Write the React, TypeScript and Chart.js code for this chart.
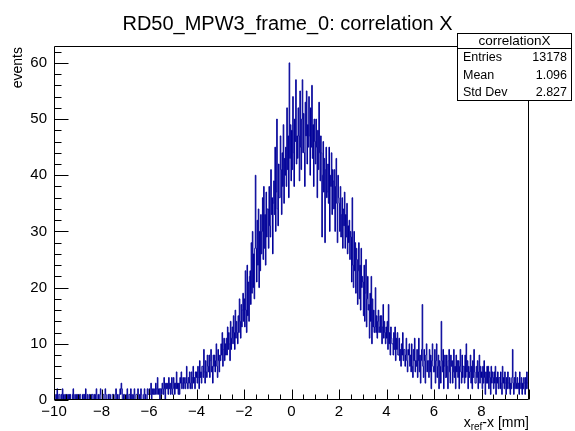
import React, { useEffect, useRef } from "react";
import { Chart, registerables } from "chart.js";

Chart.register(...registerables);

const X_MIN = -10;
const X_MAX = 10;

// events per 0.025 mm bin, one row per 0.25 mm, from x = -10 to x = +10
const counts: number[] = [
  1, 0, 0, 1, 0, 2, 0, 0, 1, 1,
  0, 0, 1, 0, 2, 1, 0, 0, 1, 0,
  1, 0, 0, 1, 0, 1, 0, 1, 0, 0,
  0, 1, 2, 0, 0, 1, 0, 0, 1, 0,
  1, 0, 0, 1, 1, 0, 0, 0, 1, 1,
  0, 1, 0, 2, 0, 0, 1, 0, 0, 1,
  0, 0, 1, 0, 1, 1, 0, 0, 1, 0,
  1, 2, 0, 0, 1, 0, 0, 1, 2, 0,
  0, 0, 1, 1, 0, 0, 2, 1, 0, 0,
  0, 1, 0, 1, 1, 0, 0, 0, 1, 1,
  1, 0, 0, 1, 2, 0, 0, 1, 0, 0,
  1, 2, 1, 3, 2, 0, 0, 1, 1, 0,
  0, 0, 1, 2, 0, 0, 1, 1, 0, 2,
  0, 1, 0, 0, 1, 2, 0, 0, 1, 1,
  1, 2, 0, 0, 1, 0, 2, 1, 0, 0,
  0, 1, 2, 0, 1, 0, 0, 2, 1, 1,
  2, 1, 1, 3, 0, 1, 2, 1, 2, 1,
  1, 3, 2, 1, 4, 2, 1, 2, 0, 2,
  2, 1, 3, 2, 1, 4, 2, 0, 3, 2,
  3, 2, 1, 4, 2, 3, 1, 2, 4, 1,
  2, 4, 3, 1, 3, 2, 5, 2, 3, 1,
  3, 1, 4, 3, 5, 2, 3, 4, 2, 3,
  4, 2, 3, 6, 3, 2, 4, 3, 5, 2,
  3, 5, 2, 4, 6, 3, 4, 2, 5, 4,
  5, 3, 6, 4, 2, 7, 4, 5, 3, 6,
  6, 4, 9, 5, 3, 7, 5, 4, 8, 6,
  5, 8, 4, 7, 9, 5, 6, 3, 8, 6,
  8, 5, 7, 10, 6, 4, 9, 7, 5, 8,
  7, 10, 8, 12, 6, 9, 11, 7, 10, 8,
  11, 8, 13, 9, 12, 10, 7, 14, 9, 11,
  13, 10, 15, 12, 9, 16, 11, 14, 12, 10,
  15, 12, 18, 14, 11, 17, 13, 16, 19, 14,
  18, 13, 23, 16, 12, 24, 15, 21, 14, 22,
  23, 17, 28, 19, 30, 20, 26, 18, 27, 40,
  27, 21, 32, 24, 34, 20, 30, 23, 33, 26,
  30, 36, 25, 38, 27, 33, 24, 37, 29, 34,
  34, 27, 38, 31, 29, 41, 33, 36, 26, 35,
  39, 33, 45, 30, 37, 50, 34, 31, 42, 36,
  36, 47, 41, 33, 44, 38, 49, 35, 43, 40,
  45, 38, 52, 41, 47, 36, 60, 43, 49, 39,
  48, 41, 54, 44, 38, 50, 46, 57, 42, 47,
  43, 52, 47, 39, 55, 45, 41, 50, 57, 44,
  51, 44, 38, 53, 47, 55, 42, 49, 45, 54,
  47, 40, 52, 45, 56, 43, 49, 38, 50, 46,
  42, 50, 45, 36, 48, 41, 53, 44, 39, 47,
  44, 29, 40, 46, 37, 43, 28, 41, 45, 36,
  37, 42, 35, 45, 30, 40, 38, 44, 33, 41,
  39, 34, 41, 30, 38, 43, 35, 28, 40, 36,
  35, 30, 38, 29, 33, 36, 27, 34, 31, 37,
  27, 33, 29, 35, 26, 31, 28, 32, 25, 30,
  29, 21, 36, 24, 20, 30, 23, 28, 19, 27,
  25, 17, 23, 28, 18, 24, 16, 27, 20, 22,
  21, 15, 24, 14, 19, 25, 13, 18, 22, 16,
  17, 11, 19, 14, 22, 10, 18, 13, 16, 12,
  13, 20, 12, 15, 11, 14, 16, 12, 13, 15,
  12, 15, 10, 13, 17, 11, 14, 12, 10, 13,
  11, 14, 9, 17, 10, 12, 8, 13, 11, 10,
  10, 8, 12, 9, 13, 7, 11, 9, 12, 8,
  8, 11, 7, 9, 6, 10, 8, 12, 7, 9,
  9, 6, 8, 11, 7, 5, 9, 8, 10, 6,
  8, 5, 10, 6, 4, 9, 7, 11, 5, 7,
  6, 9, 4, 7, 11, 5, 8, 3, 7, 9,
  17, 6, 4, 9, 7, 3, 8, 10, 5, 7,
  7, 4, 9, 5, 8, 2, 7, 10, 6, 5,
  5, 9, 3, 7, 10, 4, 6, 8, 2, 7,
  6, 3, 14, 7, 5, 9, 2, 6, 8, 4,
  4, 8, 6, 2, 7, 9, 5, 3, 8, 6,
  7, 3, 5, 9, 4, 6, 2, 8, 5, 7,
  4, 7, 2, 6, 9, 5, 3, 8, 4, 6,
  6, 3, 8, 4, 10, 5, 7, 2, 6, 4,
  5, 8, 3, 6, 2, 7, 4, 9, 5, 3,
  3, 6, 4, 7, 2, 5, 8, 3, 6, 4,
  5, 2, 6, 3, 7, 4, 1, 5, 3, 6,
  3, 6, 2, 5, 4, 1, 6, 3, 5, 4,
  2, 5, 3, 6, 1, 4, 3, 5, 2, 4,
  4, 2, 5, 3, 1, 6, 3, 4, 2, 5,
  3, 1, 4, 2, 5, 3, 2, 4, 1, 3,
  2, 4, 9, 3, 1, 4, 2, 5, 3, 2,
  4, 2, 3, 1, 5, 3, 2, 4, 1, 3,
  2, 4, 3, 1, 4, 2, 5, 3, 2, 4,
];

const xTickValues = [-10, -8, -6, -4, -2, 0, 2, 4, 6, 8];
const yTickValues = [0, 10, 20, 30, 40, 50, 60];
const Y_MAX = 63;

const chartTitle = "RD50_MPW3_frame_0: correlation X";
const statsTitle = "correlationX";
const statsLabels = ["Entries", "Mean", "Std Dev"];
const statsValues = ["13178", "1.096", "2.827"];
const yTitle = "events";
const xTitleParts = ["x", "ref", "-x [mm]"];

const FONT = '"Liberation Sans", Arial, Helvetica, sans-serif';
const LINE_COLOR = "#000099";

const rootPlugin = {
  id: "rootDecor",
  afterDatasetsDraw(chart: any) {
    const { ctx, chartArea: a, scales } = chart;
    const xs = scales.x;
    const ys = scales.y;
    ctx.save();
    ctx.strokeStyle = "#000";
    ctx.lineWidth = 1;
    const L = Math.round(a.left) + 0.5;
    const R = Math.round(a.right) - 0.5;
    const T = Math.round(a.top) + 0.5;
    const B = Math.round(a.bottom) - 0.5;
    ctx.beginPath();
    ctx.rect(L, T, R - L, B - T);
    ctx.stroke();
    ctx.beginPath();
    for (let i = 0; i <= 40; i++) {
      const v = X_MIN + i * 0.5;
      const px = Math.round(xs.getPixelForValue(v)) + 0.5;
      const len = i % 4 === 0 ? 10 : 5;
      ctx.moveTo(px, B);
      ctx.lineTo(px, B - len);
    }
    for (let v = 0; v <= 62; v += 2) {
      const py = Math.round(ys.getPixelForValue(v)) + 0.5;
      const len = v % 10 === 0 ? 14 : 7;
      ctx.moveTo(L, py);
      ctx.lineTo(L + len, py);
    }
    ctx.stroke();
    ctx.restore();
  },
  afterDraw(chart: any) {
    const { ctx, chartArea: a } = chart;
    ctx.save();
    ctx.fillStyle = "#000";
    ctx.font = `20px ${FONT}`;
    ctx.textAlign = "center";
    ctx.textBaseline = "alphabetic";
    ctx.fillText(chartTitle, 287.5, 30);

    const bx = 457.5, by = 33.5, bw = 114, bh = 67;
    ctx.fillStyle = "#fff";
    ctx.fillRect(bx, by, bw, bh);
    ctx.strokeStyle = "#000";
    ctx.lineWidth = 1;
    ctx.strokeRect(bx, by, bw, bh);
    ctx.beginPath();
    ctx.moveTo(bx, 48.5);
    ctx.lineTo(bx + bw, 48.5);
    ctx.stroke();
    ctx.fillStyle = "#000";
    ctx.font = `13.5px ${FONT}`;
    ctx.textAlign = "center";
    ctx.textBaseline = "middle";
    ctx.fillText(statsTitle, bx + bw / 2, 41);
    ctx.font = `12.5px ${FONT}`;
    const rowsY = [58, 76, 93];
    statsLabels.forEach((lab, i) => {
      ctx.textAlign = "left";
      ctx.fillText(lab, 463, rowsY[i]);
      ctx.textAlign = "right";
      ctx.fillText(statsValues[i], 567, rowsY[i]);
    });

    ctx.save();
    ctx.translate(18, a.top + 1);
    ctx.rotate(-Math.PI / 2);
    ctx.font = `14px ${FONT}`;
    ctx.textAlign = "right";
    ctx.textBaseline = "middle";
    ctx.fillText(yTitle, 0, 0);
    ctx.restore();

    const big = `14px ${FONT}`;
    const small = `10px ${FONT}`;
    ctx.textAlign = "left";
    ctx.textBaseline = "alphabetic";
    ctx.font = big;
    const w0 = ctx.measureText(xTitleParts[0]).width;
    const w2 = ctx.measureText(xTitleParts[2]).width;
    ctx.font = small;
    const w1 = ctx.measureText(xTitleParts[1]).width;
    let x0 = a.right - (w0 + w1 + w2);
    const base = 427;
    ctx.font = big;
    ctx.fillText(xTitleParts[0], x0, base);
    x0 += w0;
    ctx.font = small;
    ctx.fillText(xTitleParts[1], x0, base + 3);
    x0 += w1;
    ctx.font = big;
    ctx.fillText(xTitleParts[2], x0, base);
    ctx.restore();
  },
};

export default function App() {
  const ref = useRef<HTMLCanvasElement | null>(null);
  useEffect(() => {
    if (!ref.current) return;
    const binWidth = (X_MAX - X_MIN) / counts.length;
    const points = counts.map((c, i) => ({
      x: Number((X_MIN + i * binWidth).toFixed(5)),
      y: c,
    }));
    points.push({ x: X_MAX, y: counts[counts.length - 1] });
    const chart = new Chart(ref.current, {
      type: "line",
      data: {
        datasets: [
          {
            data: points,
            borderColor: LINE_COLOR,
            borderWidth: 1,
            pointRadius: 0,
            stepped: "before",
            fill: false,
            tension: 0,
          },
        ],
      },
      options: {
        animation: false,
        responsive: false,
        maintainAspectRatio: false,
        devicePixelRatio: 1,
        layout: { padding: { top: 46, right: 46, left: 0, bottom: 0 } },
        plugins: {
          legend: { display: false },
          tooltip: { enabled: false },
          title: { display: false },
        },
        scales: {
          x: {
            type: "linear",
            min: X_MIN,
            max: X_MAX,
            grid: { display: false, drawTicks: false },
            border: { display: false },
            afterFit: (s: any) => {
              s.height = 31;
            },
            afterBuildTicks: (s: any) => {
              s.ticks = xTickValues.map((v) => ({ value: v }));
            },
            ticks: {
              autoSkip: false,
              maxRotation: 0,
              minRotation: 0,
              padding: 3,
              color: "#000",
              font: { family: FONT, size: 15 },
              callback: (v: any) => String(v).replace("-", "\u2212"),
            },
          },
          y: {
            type: "linear",
            min: 0,
            max: Y_MAX,
            grid: { display: false, drawTicks: false },
            border: { display: false },
            afterFit: (s: any) => {
              s.width = 54;
            },
            afterBuildTicks: (s: any) => {
              s.ticks = yTickValues.map((v) => ({ value: v }));
            },
            ticks: {
              autoSkip: false,
              padding: 7,
              color: "#000",
              font: { family: FONT, size: 15 },
            },
          },
        },
      },
      plugins: [rootPlugin],
    });
    return () => chart.destroy();
  }, []);
  return (
    <div style={{ position: "absolute", left: 0, top: 0, width: 575, height: 431, background: "#fff" }}>
      <canvas ref={ref} width={575} height={431} style={{ width: 575, height: 431, display: "block" }} />
    </div>
  );
}
